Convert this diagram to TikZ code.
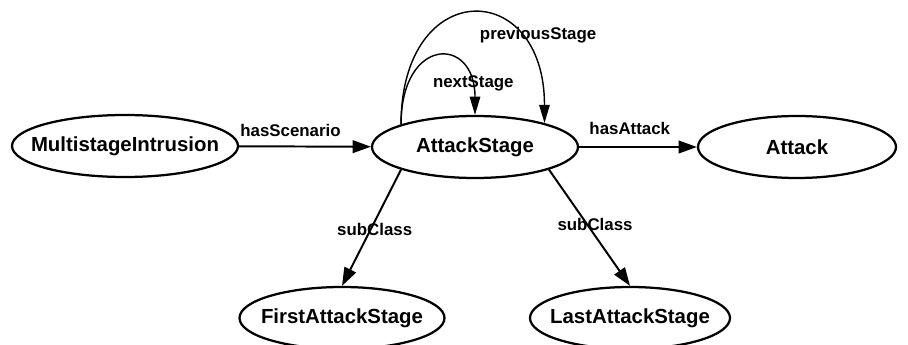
\documentclass[tikz,border=0pt]{standalone}
\usepackage{fontspec}
\setmainfont{Liberation Sans}
\usetikzlibrary{shapes.geometric,arrows.meta}

\newcommand{\cname}[1]{\makebox[0pt]{#1}}

\begin{document}
\begin{tikzpicture}[
    concept/.style={draw, ellipse, line width=1.6pt, inner sep=0pt,
        minimum height=1.55cm, font=\fontsize{14.5}{17}\selectfont\bfseries},
    relation/.style={line width=1.4pt, -{Triangle[length=13pt,width=9pt]}},
    selfrel/.style={line width=1pt, -{Triangle[length=13pt,width=7.5pt]}},
    rellabel/.style={font=\fontsize{12}{14}\selectfont\bfseries}
  ]

    \useasboundingbox (0,0) rectangle (22.7,8.6);

    \node[concept, minimum width=5.65cm] (intrusion) at (3.125,4.95) {\cname{MultistageIntrusion}};

    \node[concept, minimum width=5.15cm] (stage) at (11.875,4.925) {\cname{AttackStage}};

    \node[concept, minimum width=4.95cm] (attack) at (19.925,4.925) {\cname{Attack}};

    \node[concept, minimum width=5.125cm] (first) at (8.55,0.65) {\cname{FirstAttackStage}};

    \node[concept, minimum width=5cm] (last) at (15.75,0.65) {\cname{LastAttackStage}};



    \draw[relation] (intrusion) -- node[rellabel, above=3pt, pos=0.39] {hasScenario} (stage);

    \draw[relation] (stage) -- node[rellabel, above=5pt, pos=0.43] {hasAttack} (attack);

    \draw[relation] (stage.197) -- node[rellabel, pos=0.5, xshift=0.08cm, yshift=-0.05cm] {subClass} (first.north);

    \draw[relation] (stage.343) -- node[rellabel, pos=0.47, xshift=0.2cm] {subClass} (last.north);

    % loops on AttackStage
    \draw[selfrel] (stage.163) .. controls +(0,2.2) and +(0,2.0) .. node[rellabel, pos=0.8, xshift=0.15cm, yshift=-0.17cm] {nextStage} (stage.north);

    \draw[selfrel] (stage.163) .. controls +(0,3.7) and +(0,3.65) .. node[rellabel, pos=0.75, xshift=0.4cm, yshift=0.15cm] {previousStage} (stage.19);

  \end{tikzpicture}
\end{document}
